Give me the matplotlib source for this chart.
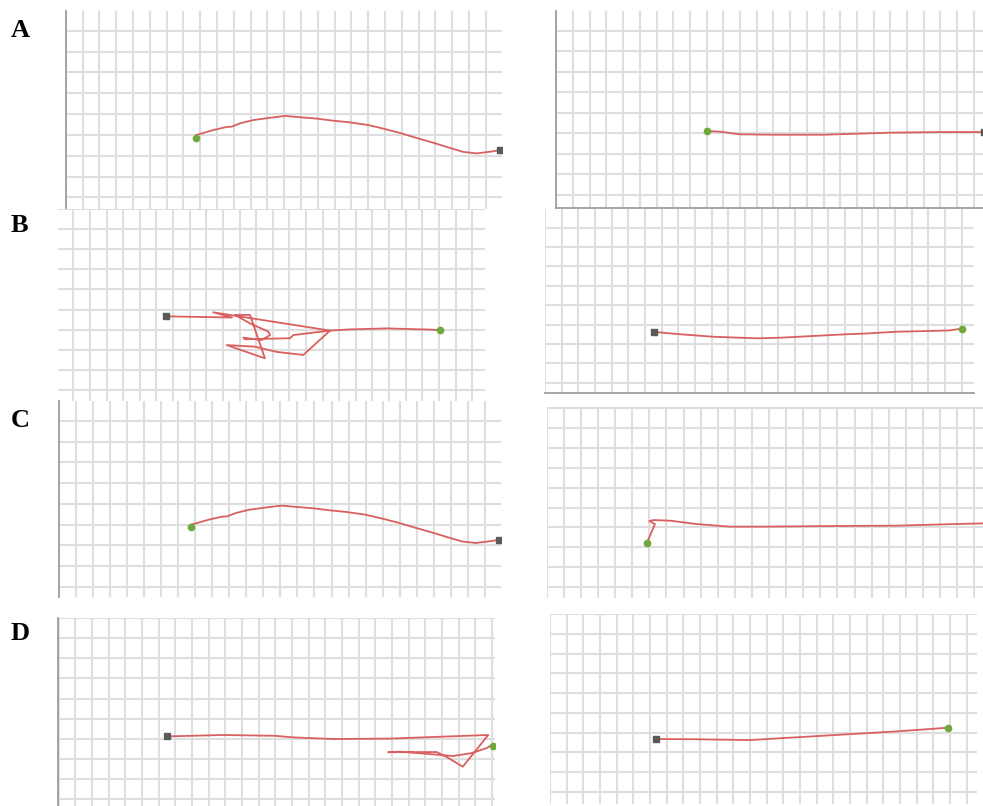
import matplotlib
matplotlib.use("Agg")
import matplotlib.pyplot as plt
import numpy as np

# trajectories, in grid cells (x to the right, y downward from panel top)
curve_x = [7.76, 7.76, 8.79, 9.58, 9.88, 10.37, 11.17, 12.16, 13.05, 14.05, 14.94, 15.93,
           16.92, 18.01, 18.90, 19.90, 20.89, 21.88, 22.88, 23.67, 24.46, 25.26, 25.85]
curve_y = [6.14, 6.01, 5.77, 5.62, 5.61, 5.45, 5.29, 5.18, 5.09, 5.16, 5.22, 5.32,
           5.40, 5.53, 5.70, 5.91, 6.15, 6.38, 6.63, 6.82, 6.89, 6.81, 6.74]

flat_x = [9.04, 9.79, 10.99, 12.99, 15.99, 17.99, 19.98, 21.98, 22.98, 25.60]
flat_y = [5.88, 5.91, 6.04, 6.06, 6.06, 6.01, 5.96, 5.94, 5.93, 5.93]

tangle_x = [5.58, 9.55, 8.42, 15.45, 13.24, 13.04, 10.33, 10.23, 11.34, 11.84, 11.73,
            10.63, 9.73, 10.63, 11.53, 9.23, 10.93, 12.24, 13.84, 15.45, 16.65, 18.86,
            21.46, 22.06]
tangle_y = [5.34, 5.40, 5.14, 6.05, 6.27, 6.43, 6.48, 6.40, 6.52, 6.27, 6.10,
            5.69, 5.27, 5.27, 7.43, 6.77, 6.85, 7.11, 7.26, 6.05, 5.99, 5.94,
            6.00, 6.03]

dip_x = [6.54, 8.10, 10.10, 12.70, 14.10, 16.10, 18.10, 19.09, 21.10, 23.10, 24.30, 25.00]
dip_y = [6.38, 6.50, 6.63, 6.71, 6.68, 6.59, 6.50, 6.47, 6.37, 6.33, 6.30, 6.21]

hook_x = [5.85, 6.33, 6.00, 6.24, 7.21, 8.77, 10.71, 12.66, 16.57, 20.47, 23.39, 25.80]
hook_y = [6.79, 5.83, 5.68, 5.63, 5.66, 5.83, 5.96, 5.96, 5.93, 5.91, 5.84, 5.79]

loop_x = [6.53, 9.89, 12.99, 14.09, 16.48, 19.89, 22.48, 25.78, 24.25, 23.29, 22.69,
          19.78, 20.49, 23.68, 24.79, 25.69, 25.89, 26.05]
loop_y = [5.89, 5.82, 5.86, 5.94, 6.02, 6.00, 5.92, 5.82, 7.40, 6.92, 6.67,
          6.68, 6.65, 6.87, 6.72, 6.47, 6.37, 6.35]

rise_x = [6.34, 8.80, 12.00, 14.80, 17.80, 20.80, 22.80, 23.90]
rise_y = [6.33, 6.34, 6.38, 6.24, 6.09, 5.94, 5.82, 5.75]

labels = ["A", "B", "C", "D"]

W, H = 983, 806
fig = plt.figure(figsize=(W / 100, H / 100), dpi=100)
fig.patch.set_facecolor("white")

GRID = "#dedede"
SPINE = "#9e9e9e"
LINE = "#d9605f"
GREEN = "#6fa83c"
SQUARE = "#5a5a5a"


def panel(box, x0, ux, y0, uy, spines=()):
    l, t, r, b = box
    ax = fig.add_axes([l / W, 1 - b / H, (r - l) / W, (b - t) / H])
    xa, xb = (l - x0) / ux, (r - x0) / ux
    ya, yb = (t - y0) / uy, (b - y0) / uy
    ax.set_xlim(xa, xb)
    ax.set_ylim(yb, ya)
    ax.set_xticks(np.arange(np.ceil(xa), np.floor(xb) + 1))
    ax.set_yticks(np.arange(np.ceil(ya), np.floor(yb) + 1))
    ax.grid(True, color=GRID, lw=1.5)
    ax.set_axisbelow(True)
    ax.tick_params(length=0, labelbottom=False, labelleft=False)
    for name, sp in ax.spines.items():
        if name in spines:
            sp.set_color(SPINE)
            sp.set_linewidth(1.3)
        else:
            sp.set_visible(False)
    return ax


def track(ax, xs, ys, green="first", square="last"):
    ax.plot(xs, ys, color=LINE, lw=1.3, zorder=3)
    ends = {"first": 0, "last": -1}
    if green:
        i = ends[green]
        ax.plot(xs[i], ys[i], "o", color=GREEN, ms=4.5, zorder=4)
    if square:
        i = ends[square]
        ax.plot(xs[i], ys[i], "s", color=SQUARE, ms=4.5, zorder=4)


# A
ax = panel((65.7, 11, 502, 209), 65.7, 16.8, 9.9, 20.825, spines=("left",))
track(ax, curve_x, curve_y, green="first", square="last")
ax = panel((556.3, 11, 983, 208.3), 556.3, 16.7, 10.5, 20.5, spines=("left", "bottom"))
track(ax, flat_x, flat_y, green="first", square="last")

# B
ax = panel((58.3, 209, 485, 401), 73.3, 16.62, 209, 20.1)
track(ax, tangle_x, tangle_y, green="last", square="first")
ax = panel((545, 209, 974, 393.3), 545, 16.67, 208.3, 19.375, spines=("bottom",))
track(ax, dip_x, dip_y, green="last", square="first")

# C
ax = panel((58.7, 401, 501, 597), 58.7, 17.05, 400, 20.75, spines=("left",))
track(ax, curve_x, curve_y, green="first", square="last")
ax = panel((546.7, 407, 983, 598), 546.7, 17.1, 407.75, 19.95)
track(ax, hook_x, hook_y, green="first", square=None)

# D
ax = panel((58.3, 617.5, 495, 806), 58.5, 16.67, 618.3, 20.05, spines=("left",))
track(ax, loop_x, loop_y, green="last", square="first")
ax = panel((550, 613.5, 977.3, 804), 550, 16.67, 614.3, 19.71)
track(ax, rise_x, rise_y, green="last", square="first")

for lab, base in zip(labels, [37, 231.5, 427, 640.5]):
    fig.text(11 / W, 1 - base / H, lab, fontsize=19, fontweight="bold",
             family="Liberation Serif", ha="left", va="baseline")

fig.savefig("out.png", dpi=100, facecolor="white")
